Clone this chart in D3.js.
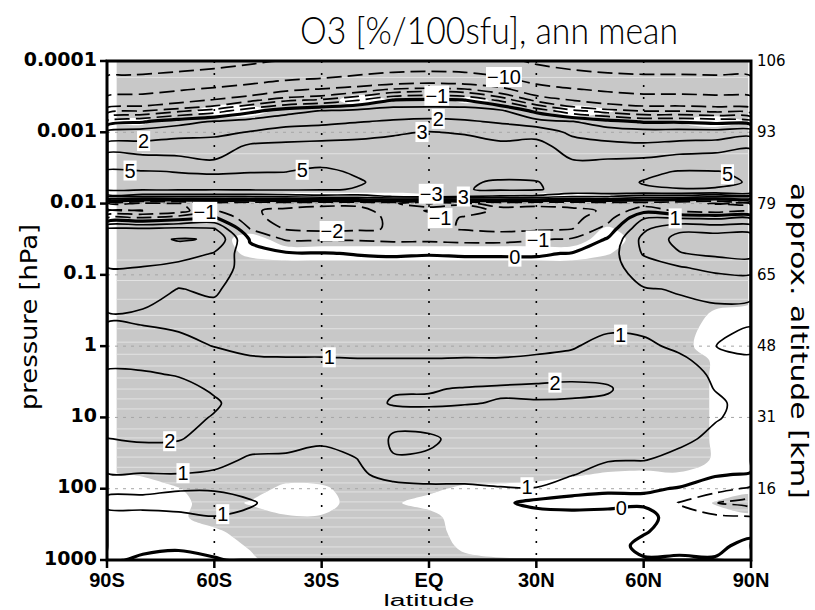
<!DOCTYPE html>
<html lang="en">

<head>
  <meta charset="utf-8">
  <title>O3 response, ann mean</title>
  <script src="https://d3js.org/d3.v7.min.js"></script>
  <style>
    body { margin: 0; background: #fff; }
  </style>
</head>

<body>
  <script>
    // grid: latitude columns, pressure rows (hPa, top of model first)
    var lats = [-90, -80, -70, -60, -50, -40, -30, -20, -10, 0, 10, 20, 30, 40, 50, 60, 70, 80, 90];
    var plev = [0.0001, 0.000158, 0.000251, 0.000355, 0.000501, 0.000708, 0.001, 0.00158, 0.00251, 0.00355,
      0.00501, 0.00631, 0.00794, 0.01, 0.0126, 0.0158, 0.0224, 0.0316, 0.0501, 0.0794, 0.158, 0.398,
      1, 1.58, 2.51, 3.98, 6.31, 10, 20, 39.8, 63.1, 100, 158, 251, 398, 631, 1000];

    // O3 response [%/100sfu], one row per pressure level
    var o3 = [
      [-29, -28, -26, -24, -21.7, -19.5, -18.5, -17, -15.5, -15, -15.5, -17.5, -21.7, -24.7, -26.5, -28, -28, -28.5, -29],
      [-20.5, -19.5, -18, -16.5, -14.5, -12.5, -11.5, -10, -8.6, -8.2, -8.6, -10.5, -14.5, -17, -18.7, -19.5, -19.5, -20, -20.5],
      [-13, -12, -10.5, -9, -7.3, -5.5, -4.7, -3.7, -2.8, -2.5, -2.8, -4, -7.3, -9.5, -11, -12, -12, -12.5, -13],
      [-8.2, -7.3, -5.9, -4.7, -3.3, -2.2, -1.8, -1.05, 0.05, 0.2, 0.05, -1.2, -3.3, -5, -6.3, -7.3, -7.3, -7.7, -8.2],
      [-3.7, -3.05, -2.2, -1.5, -0.3, 0.6, 1.05, 1.3, 1.5, 1.5, 1.5, 1.2, -0.3, -1.7, -2.5, -3.05, -3.05, -3.3, -3.7],
      [-0.7, -0.1, 0.6, 1.1, 1.4, 1.7, 1.8, 1.95, 2.1, 2.2, 2.1, 1.9, 1.4, 1.05, 0.4, -0.1, -0.1, -0.3, -0.7],
      [1.3, 1.5, 1.7, 1.8, 2.05, 2.3, 2.4, 2.6, 2.9, 3.05, 2.9, 2.5, 2.6, 1.8, 1.5, 1.4, 1.4, 1.4, 1.6],
      [2.3, 2.3, 2.4, 2.4, 3.2, 3.3, 3.4, 3.4, 3.3, 3.4, 3.5, 3.3, 3.4, 2.5, 2.3, 2.2, 2.4, 2.5, 2.8],
      [3.8, 3.5, 3.3, 3.05, 4.0, 4.1, 4.5, 4.2, 3.8, 3.8, 3.9, 3.7, 3.6, 3.05, 3.1, 3.2, 3.5, 3.6, 3.8],
      [5.2, 5.1, 4.95, 4.9, 4.95, 4.98, 5.3, 4.8, 4.3, 4.2, 4.4, 4.3, 4.2, 3.6, 3.8, 4.6, 5.1, 5.05, 4.8],
      [5.6, 5.5, 5.4, 5.3, 5.4, 5.4, 5.5, 5.15, 4.5, 4.5, 4.8, 5.2, 5.1, 4.0, 4.3, 5.1, 5.3, 5.3, 4.9],
      [5.3, 5.3, 5.3, 5.2, 5.3, 5.3, 5.2, 4.9, 4.4, 4.5, 4.9, 5.3, 5.2, 4.2, 4.5, 4.8, 4.95, 4.9, 4.7],
      [2.05, 2.05, 2.05, 2.05, 2.05, 2.2, 2.5, 2.5, 3.05, 3.4, 3.05, 2.8, 2.6, 2.05, 2.05, 1.5, 1.5, 1.05, 1.05],
      [-2.5, -2.3, -2.05, -1.5, -1.8, -1.6, -1.8, -1.8, -1.8, -3.1, -2.1, -1.8, -1.8, -1.7, -1.6, -1.5, -1.8, -2.05, -2.05],
      [-3.2, -3.05, -2.5, -0.9, -1.9, -2.2, -2.3, -2.3, -1.6, -0.9, -1.6, -2.2, -2.3, -2.2, -1.9, -0.3, -1.2, -1.5, -1.5],
      [-1.2, -0.95, -0.5, 0.1, -1.7, -2.4, -2.5, -2.4, -1.8, -1.5, -2.1, -2.4, -2.5, -2.3, -1.4, 0.9, 0.9, 0.8, 0.8],
      [2.05, 2.05, 2.2, 2.05, -1.05, -2.1, -2.3, -2.2, -1.9, -1.7, -2.1, -2.3, -2.2, -2.05, -0.6, 1.8, 2.8, 2.6, 2.6],
      [2.5, 2.8, 3.05, 2.95, -0.1, -1.1, -1.1, -1.1, -1.2, -1.2, -1.3, -1.3, -1.1, -0.9, 0.1, 2.3, 3.3, 3.5, 3.5],
      [2.4, 2.6, 2.7, 1.9, 0.3, 0.1, 0.05, -0.05, -0.1, -0.05, -0.1, -0.1, -0.1, 0.05, 0.5, 2.1, 2.95, 3.2, 3.3],
      [1.98, 1.95, 1.5, 1.6, 0.5, 0.4, 0.4, 0.4, 0.35, 0.35, 0.35, 0.35, 0.35, 0.4, 0.6, 1.5, 1.9, 2.3, 2.4],
      [1.4, 1.35, 0.98, 1.1, 0.6, 0.55, 0.55, 0.55, 0.5, 0.5, 0.5, 0.5, 0.5, 0.55, 0.7, 0.95, 1.05, 1.1, 1.1],
      [0.9, 0.85, 0.75, 0.75, 0.75, 0.7, 0.7, 0.65, 0.65, 0.6, 0.6, 0.6, 0.6, 0.65, 0.75, 0.8, 0.8, 0.9, 0.85],
      [1.5, 1.4, 1.25, 0.98, 0.9, 0.9, 0.9, 0.88, 0.88, 0.87, 0.87, 0.87, 0.9, 0.95, 1.2, 1.1, 0.9, 0.99, 1.3],
      [1.8, 1.75, 1.6, 1.4, 1.05, 1.03, 1.03, 1.02, 1.02, 1.02, 1.03, 1.03, 1.07, 1.15, 1.4, 1.3, 1.1, 0.8, 0.75],
      [2.1, 2.1, 1.95, 1.7, 1.3, 1.3, 1.3, 1.3, 1.4, 1.4, 1.6, 1.7, 1.75, 1.8, 1.8, 1.5, 1.3, 0.9, 0.7],
      [2.3, 2.4, 2.25, 1.9, 1.5, 1.45, 1.5, 1.55, 1.95, 1.95, 2.05, 2.1, 2.15, 2.2, 2.08, 1.55, 1.35, 0.98, 0.75],
      [2.35, 2.45, 2.3, 2.1, 1.6, 1.5, 1.55, 1.75, 2.05, 2.1, 2.05, 1.95, 1.95, 1.9, 1.85, 1.5, 1.35, 1.1, 0.8],
      [2.3, 2.35, 2.25, 1.95, 1.6, 1.5, 1.5, 1.6, 1.75, 1.7, 1.6, 1.6, 1.55, 1.5, 1.5, 1.45, 1.3, 1.05, 0.8],
      [1.98, 2.1, 2.05, 1.7, 1.3, 1.3, 1.05, 1.35, 2.1, 2.1, 1.8, 1.55, 1.5, 1.4, 1.3, 1.3, 1.15, 0.85, 0.7],
      [1.4, 1.5, 1.5, 1.2, 0.9, 0.85, 0.9, 0.98, 1.95, 1.9, 1.7, 1.5, 1.45, 1.35, 1.05, 1.02, 0.8, 0.6, 0.5],
      [0.95, 0.95, 0.97, 0.9, 0.8, 0.8, 0.75, 0.95, 1.1, 1.2, 1.2, 1.3, 1.3, 1.05, 0.6, 0.5, 0.4, 0.1, -0.1],
      [0.85, 0.85, 0.95, 0.95, 0.85, 0.75, 0.7, 0.85, 0.9, 0.9, 0.9, 0.95, 0.97, 0.4, 0.2, 0.1, -0.05, -0.6, -1.2],
      [1.15, 1.2, 1.25, 1.25, 1.05, 0.8, 0.7, 0.75, 0.7, 0.65, 0.6, 0.2, -0.3, -0.4, -0.45, -0.2, -1.05, -1.95, -2.6],
      [0.8, 0.8, 0.85, 0.98, 0.9, 0.75, 0.7, 0.7, 0.6, 0.55, 0.5, 0.3, 0.5, 0.4, 0.6, 0.5, -0.7, -0.8, -0.95],
      [0.5, 0.5, 0.55, 0.6, 0.6, 0.6, 0.6, 0.65, 0.55, 0.5, 0.45, 0.35, 0.55, 0.6, 0.55, 0.1, -0.5, -0.5, -0.2],
      [0.15, 0.15, 0.1, 0.2, 0.25, 0.4, 0.45, 0.55, 0.5, 0.5, 0.45, 0.4, 0.5, 0.55, 0.5, -0.3, -0.2, -0.15, 0.2],
      [0.1, -0.1, -0.2, -0.05, 0.1, 0.3, 0.35, 0.5, 0.45, 0.45, 0.4, 0.4, 0.45, 0.5, 0.45, 0.1, 0.1, 0.05, 0.3]
    ];

    // significance (1 = significant, shaded grey), same grid
    var signif = [
      [1, 1, 1, 1, 1, 1, 1, 1, 1, 1, 1, 1, 1, 1, 1, 1, 1, 1, 1],
      [1, 1, 1, 1, 1, 1, 1, 1, 1, 1, 1, 1, 1, 1, 1, 1, 1, 1, 1],
      [1, 1, 1, 1, 1, 1, 1, 1, 1, 1, 1, 1, 1, 1, 1, 1, 1, 1, 1],
      [1, 1, 1, 1, 1, 1, 1, 0, 0.6, 1, 0.3, 0.6, 1, 1, 1, 1, 1, 1, 1],
      [1, 1, 1, 0, 0, 1, 1, 1, 1, 1, 1, 1, 1, 0, 0.4, 1, 1, 1, 1],
      [0, 0.3, 1, 1, 1, 1, 1, 1, 1, 1, 1, 1, 1, 1, 1, 1, 0.4, 0, 0.6],
      [1, 1, 1, 1, 1, 1, 1, 1, 1, 1, 1, 1, 1, 1, 1, 1, 1, 1, 1],
      [1, 1, 1, 1, 1, 1, 1, 1, 1, 1, 1, 1, 1, 1, 1, 1, 1, 1, 1],
      [1, 1, 1, 1, 1, 1, 1, 1, 1, 1, 1, 1, 1, 1, 1, 1, 1, 1, 1],
      [1, 1, 1, 1, 1, 1, 1, 1, 1, 1, 1, 1, 1, 1, 1, 1, 1, 1, 1],
      [1, 1, 1, 1, 1, 1, 1, 1, 1, 1, 1, 1, 1, 1, 1, 1, 1, 1, 1],
      [1, 1, 1, 1, 1, 1, 1, 1, 1, 1, 1, 1, 1, 1, 1, 1, 1, 1, 1],
      [1, 1, 1, 1, 0.4, 0, 0, 0, 0, 0.3, 1, 0.8, 0.2, 0, 0.3, 1, 1, 1, 1],
      [1, 1, 1, 1, 1, 1, 1, 1, 1, 1, 1, 1, 1, 1, 1, 1, 1, 1, 1],
      [1, 1, 1, 1, 1, 1, 1, 1, 1, 1, 1, 1, 1, 1, 1, 1, 1, 1, 1],
      [1, 1, 1, 1, 1, 1, 1, 1, 1, 1, 1, 1, 1, 1, 1, 1, 1, 1, 1],
      [1, 1, 1, 1, 1, 1, 1, 1, 1, 1, 1, 1, 1, 1, 0.4, 1, 1, 1, 1],
      [1, 1, 1, 1, 0, 1, 1, 1, 1, 1, 1, 1, 1, 1, 0, 1, 1, 1, 1],
      [1, 1, 1, 1, 0.3, 0, 0, 0, 0, 0, 0, 0, 0, 0, 0.45, 1, 1, 1, 1],
      [1, 1, 1, 1, 1, 1, 1, 1, 1, 1, 1, 1, 1, 1, 1, 1, 1, 1, 1],
      [1, 1, 1, 1, 1, 1, 1, 1, 1, 1, 1, 1, 1, 1, 1, 1, 1, 1, 1],
      [1, 1, 1, 1, 1, 1, 1, 1, 1, 1, 1, 1, 1, 1, 1, 1, 1, 0.3, 0],
      [1, 1, 1, 1, 1, 1, 1, 1, 1, 1, 1, 1, 1, 1, 1, 1, 0.7, 0.2, 0],
      [1, 1, 1, 1, 1, 1, 1, 1, 1, 1, 1, 1, 1, 1, 1, 1, 1, 0.4, 0],
      [1, 1, 1, 1, 1, 1, 1, 1, 1, 1, 1, 1, 1, 1, 1, 1, 1, 0.4, 0],
      [1, 1, 1, 1, 1, 1, 1, 1, 1, 1, 1, 1, 1, 1, 1, 1, 1, 0.4, 0],
      [1, 1, 1, 1, 1, 1, 1, 1, 1, 1, 1, 1, 1, 1, 1, 1, 1, 0.4, 0],
      [1, 1, 1, 1, 1, 1, 1, 1, 1, 1, 1, 1, 1, 1, 1, 1, 1, 0.4, 0],
      [1, 1, 1, 1, 1, 1, 1, 1, 1, 1, 1, 1, 1, 1, 1, 1, 1, 0.4, 0],
      [1, 1, 1, 1, 1, 1, 1, 1, 1, 1, 1, 1, 1, 1, 1, 1, 1, 0.4, 0],
      [0.3, 0.6, 1, 1, 1, 1, 1, 1, 1, 1, 1, 1, 1, 0.6, 0.4, 0.3, 0.4, 0, 0],
      [0, 0, 0.45, 1, 1, 0.2, 0.3, 1, 1, 0.7, 0.3, 0.2, 0, 0, 0, 0, 0, 0, 0.2],
      [0, 0, 0.2, 1, 0.4, 0, 0, 1, 0.6, 0.2, 0, 0, 0, 0, 0, 0, 0, 0.55, 0.9],
      [0, 0, 0.3, 1, 1, 0.6, 0.6, 1, 1, 0.8, 0, 0, 0, 0, 0, 0, 0, 0.2, 0.3],
      [0, 0, 0, 0.3, 1, 1, 1, 1, 1, 1, 0, 0, 0, 0, 0, 0, 0, 0, 0],
      [0, 0, 0, 0, 0.6, 1, 1, 1, 1, 1, 0.3, 0, 0, 0, 0, 0, 0, 0, 0],
      [0, 0, 0, 0, 0.3, 1, 1, 1, 1, 1, 0.7, 0.6, 0.55, 0.3, 0, 0, 0, 0, 0]
    ];

    var clevs = [-30, -20, -10, -5, -3, -2, -1, 0, 1, 2, 3, 5, 10];
    var modelLevels = [0.00017, 0.002, 0.062, 0.12, 0.22, 0.37, 0.57, 0.88, 1.3, 1.9, 2.8, 4, 5.5, 7.6,
      14.5, 19.4, 27, 36, 50, 64, 83, 111, 153, 199, 257, 344, 475, 656, 851];

    var decades = [0.0001, 0.001, 0.01, 0.1, 1, 10, 100, 1000];
    var decadeLabels = ['0.0001', '0.001', '0.01', '0.1', '1', '10', '100', '1000'];
    var altLabels = ['106', '93', '79', '65', '48', '31', '16'];
    var latTicks = [-90, -60, -30, 0, 30, 60, 90];
    var latLabels = ['90S', '60S', '30S', 'EQ', '30N', '60N', '90N'];

    // contour labels: [level, lat, pressure]
    var labelSpots = [
      [-1, 2.2, 0.00028], [2, 2.6, 0.0006], [3, -2.0, 0.0009], [-3, 0.6, 0.0073], [3, 9.6, 0.0076],
      [-1, 3.1, 0.016], [-10, 21.2, 0.000147],
      [2, -79.7, 0.00146], [5, -35.5, 0.00317], [5, -83.6, 0.00438], [5, 83.3, 0.00398],
      [-1, -62.6, 0.0135], [-2, -27.1, 0.025], [-1, 30.4, 0.0294], [0, 24.0, 0.0493], [1, 68.8, 0.0158],
      [1, -27.9, 1.47], [1, 53.6, 0.653], [2, 35.2, 3.18], [2, -72.4, 26],
      [1, -68.8, 58], [1, -57.6, 233], [1, 27.4, 94.6], [0, 53.7, 164]
    ];

    var W = 815, H = 610;
    var x = d3.scaleLinear().domain([-90, 90]).range([107, 751]);
    var y = d3.scaleLog().domain([0.0001, 1000]).range([61, 560]);
    var n = lats.length, m = plev.length;
    var logp = plev.map(function (p) { return Math.log10(p); });

    var svg = d3.select('body').append('svg')
      .attr('width', W)
      .attr('height', H);

    // grid coordinate from d3.contours -> pixel
    function gridToPx(pt) {
      var gi = Math.max(0, Math.min(n - 1, pt[0] - 0.5));
      var gj = Math.max(0, Math.min(m - 1, pt[1] - 0.5));
      var i0 = Math.min(n - 2, Math.floor(gi)), t = gi - i0;
      var j0 = Math.min(m - 2, Math.floor(gj)), s = gj - j0;
      var lat = lats[i0] + t * (lats[i0 + 1] - lats[i0]);
      var lp = logp[j0] + s * (logp[j0 + 1] - logp[j0]);
      return [x(lat), y(Math.pow(10, lp))];
    }

    var ringLine = d3.line().curve(d3.curveCatmullRomClosed.alpha(0.5));

    function ringPts(ring) {
      var pts = [];
      ring.forEach(function (pt) {
        var q = gridToPx(pt), last = pts[pts.length - 1];
        if (!last || Math.abs(last[0] - q[0]) > 0.05 || Math.abs(last[1] - q[1]) > 0.05) pts.push(q);
      });
      if (pts.length > 1) {
        var f = pts[0], l = pts[pts.length - 1];
        if (Math.abs(f[0] - l[0]) < 0.05 && Math.abs(f[1] - l[1]) < 0.05) pts.pop();
      }
      return pts;
    }

    function geoPath(geom) {
      var d = '';
      geom.coordinates.forEach(function (poly) {
        poly.forEach(function (ring) {
          var pts = ringPts(ring);
          if (pts.length > 2) d += ringLine(pts);
        });
      });
      return d;
    }

    var flatO3 = [].concat.apply([], o3);
    var flatSig = [].concat.apply([], signif);
    var conts = d3.contours().size([n, m]).thresholds(clevs)(flatO3);
    var sigCont = d3.contours().size([n, m]).thresholds([0.5])(flatSig)[0];
    var sigD = geoPath(sigCont);

    var defs = svg.append('defs');
    defs.append('clipPath').attr('id', 'plotClip')
      .append('rect').attr('x', x(-90)).attr('y', y(0.0001))
      .attr('width', x(90) - x(-90)).attr('height', y(1000) - y(0.0001));
    defs.append('clipPath').attr('id', 'shadeClip')
      .append('rect').attr('x', x(-87.3)).attr('y', y(0.0001))
      .attr('width', x(89.2) - x(-87.3)).attr('height', y(1000) - y(0.0001));
    defs.append('clipPath').attr('id', 'sigClip')
      .append('path').attr('d', sigD).attr('clip-rule', 'evenodd');

    // significance shading
    var shade = svg.append('g').attr('clip-path', 'url(#shadeClip)');
    shade.append('path')
      .attr('d', sigD)
      .attr('fill', '#c8c8c8')
      .attr('fill-rule', 'evenodd');
    shade.append('g').attr('clip-path', 'url(#sigClip)')
      .selectAll('line').data(modelLevels).enter().append('line')
      .attr('x1', x(-90)).attr('x2', x(90))
      .attr('y1', function (d) { return y(d); })
      .attr('y2', function (d) { return y(d); })
      .attr('stroke', '#e2e2e2')
      .attr('stroke-width', 1);

    // grid lines
    svg.append('g').selectAll('line').data(decades.slice(1, 7)).enter().append('line')
      .attr('x1', x(-90)).attr('x2', x(90))
      .attr('y1', function (d) { return y(d); })
      .attr('y2', function (d) { return y(d); })
      .attr('stroke', '#a6a6a6')
      .attr('stroke-width', 1)
      .attr('stroke-dasharray', '3,5');
    svg.append('g').selectAll('line').data(latTicks.slice(1, 6)).enter().append('line')
      .attr('x1', function (d) { return x(d); })
      .attr('x2', function (d) { return x(d); })
      .attr('y1', y(0.0001)).attr('y2', y(1000))
      .attr('stroke', '#000')
      .attr('stroke-width', 1.6)
      .attr('stroke-dasharray', '2,10');

    // contour lines
    var cg = svg.append('g').attr('clip-path', 'url(#plotClip)');
    conts.forEach(function (c) {
      var lv = c.value;
      cg.append('path')
        .attr('d', geoPath(c))
        .attr('fill', 'none')
        .attr('stroke', '#000')
        .attr('stroke-width', lv === 0 ? 3.2 : 1.7)
        .attr('stroke-dasharray', lv < 0 ? '15,6' : null)
        .attr('stroke-linejoin', 'round');
    });

    // contour labels, snapped onto the nearest piece of their contour
    function onFrame(p) {
      return p[0] <= x(-90) + 0.5 || p[0] >= x(90) - 0.5 || p[1] <= y(0.0001) + 0.5 || p[1] >= y(1000) - 0.5;
    }

    function snap(c, ax, ay) {
      var best = null, bd = 8;
      c.coordinates.forEach(function (poly) {
        poly.forEach(function (ring) {
          var pts = ring.map(gridToPx);
          for (var k = 0; k < pts.length - 1; k++) {
            var p0 = pts[k], p1 = pts[k + 1];
            if (onFrame(p0) && onFrame(p1)) continue;
            var dx = p1[0] - p0[0], dy = p1[1] - p0[1], L = dx * dx + dy * dy;
            var t = L > 0 ? Math.max(0, Math.min(1, ((ax - p0[0]) * dx + (ay - p0[1]) * dy) / L)) : 0;
            var qx = p0[0] + t * dx, qy = p0[1] + t * dy;
            var dd = Math.hypot(qx - ax, qy - ay);
            if (dd < bd) { bd = dd; best = [qx, qy]; }
          }
        });
      });
      return best || [ax, ay];
    }

    var placed = [];
    function hits(b) {
      return placed.some(function (o) {
        return b.x0 < o.x1 && b.x1 > o.x0 && b.y0 < o.y1 && b.y1 > o.y0;
      });
    }

    var lg = svg.append('g');
    labelSpots.forEach(function (s) {
      var c = conts.filter(function (k) { return k.value === s[0]; })[0];
      var ax = x(s[1]), ay = y(s[2]);
      var txt = s[0] < 0 ? '\u2212' + Math.abs(s[0]) : String(s[0]);
      var g = lg.append('g');
      var t = g.append('text')
        .attr('text-anchor', 'middle')
        .attr('y', 7)
        .style('font-family', '"Liberation Sans", Arial, sans-serif')
        .style('font-size', '20px')
        .text(txt);
      var bb = t.node().getBBox();
      function box(p) { return { x0: p[0] + bb.x, x1: p[0] + bb.x + bb.width, y0: p[1] + bb.y, y1: p[1] + bb.y + bb.height }; }
      var pos = snap(c, ax, ay);
      if (hits(box(pos))) pos = [ax, ay];
      var tries = 0;
      while (hits(box(pos)) && tries < 12) { pos = [pos[0], pos[1] + 1]; tries++; }
      placed.push(box(pos));
      g.attr('transform', 'translate(' + pos + ')');
      g.insert('rect', 'text')
        .attr('x', bb.x - 1).attr('y', -10)
        .attr('width', bb.width + 2).attr('height', 20)
        .attr('fill', '#fff');
    });

    // frame and ticks
    svg.append('rect')
      .attr('x', x(-90)).attr('y', y(0.0001))
      .attr('width', x(90) - x(-90)).attr('height', y(1000) - y(0.0001))
      .attr('fill', 'none').attr('stroke', '#000').attr('stroke-width', 3);
    svg.append('g').selectAll('line').data(decades).enter().append('line')
      .attr('x1', x(-90) - 7).attr('x2', x(-90))
      .attr('y1', function (d) { return y(d); })
      .attr('y2', function (d) { return y(d); })
      .attr('stroke', '#000').attr('stroke-width', 2.5);
    svg.append('g').selectAll('line').data(latTicks).enter().append('line')
      .attr('x1', function (d) { return x(d); })
      .attr('x2', function (d) { return x(d); })
      .attr('y1', y(1000)).attr('y2', y(1000) + 8)
      .attr('stroke', '#000').attr('stroke-width', 2.5);

    // axis labels
    svg.append('g').selectAll('text').data(decades).enter().append('text')
      .attr('x', x(-90) - 10)
      .attr('y', function (d) { return y(d) + 4.5; })
      .attr('text-anchor', 'end')
      .style('font-family', '"DejaVu Sans", sans-serif')
      .style('font-weight', 'bold')
      .style('font-size', '19px')
      .text(function (d, i) { return decadeLabels[i]; });
    svg.append('g').selectAll('text').data(decades.slice(0, 7)).enter().append('text')
      .attr('x', x(90) + 6)
      .attr('y', function (d) { return y(d) + 5; })
      .style('font-family', '"DejaVu Sans", sans-serif')
      .style('font-size', '15px')
      .text(function (d, i) { return altLabels[i]; });
    svg.append('g').selectAll('text').data(latTicks).enter().append('text')
      .attr('x', function (d) { return x(d); })
      .attr('y', 587.3)
      .attr('text-anchor', 'middle')
      .style('font-family', '"Liberation Sans", Arial, sans-serif')
      .style('font-weight', 'bold')
      .style('font-size', '20px')
      .text(function (d, i) { return latLabels[i]; });

    // titles
    svg.append('text')
      .attr('x', 489).attr('y', 44)
      .attr('text-anchor', 'middle')
      .attr('textLength', 378).attr('lengthAdjust', 'spacingAndGlyphs')
      .style('font-family', 'Lato, "DejaVu Sans", sans-serif')
      .style('font-weight', 300)
      .style('font-size', '37px')
      .text('O3 [%/100sfu], ann mean');
    svg.append('text')
      .attr('x', 429).attr('y', 606.1)
      .attr('text-anchor', 'middle')
      .attr('textLength', 91).attr('lengthAdjust', 'spacingAndGlyphs')
      .style('font-family', '"Liberation Sans", Arial, sans-serif')
      .style('font-size', '16px')
      .text('latitude');
    svg.append('text')
      .attr('transform', 'translate(37,317) rotate(-90)')
      .attr('text-anchor', 'middle')
      .attr('textLength', 186).attr('lengthAdjust', 'spacingAndGlyphs')
      .style('font-family', '"DejaVu Sans", sans-serif')
      .style('font-size', '23px')
      .text('pressure [hPa]');
    svg.append('text')
      .attr('transform', 'translate(791,341) rotate(90)')
      .attr('text-anchor', 'middle')
      .attr('textLength', 316).attr('lengthAdjust', 'spacingAndGlyphs')
      .style('font-family', '"DejaVu Sans", sans-serif')
      .style('font-size', '23px')
      .text('approx. altitude [km]');
  </script>
</body>

</html>
